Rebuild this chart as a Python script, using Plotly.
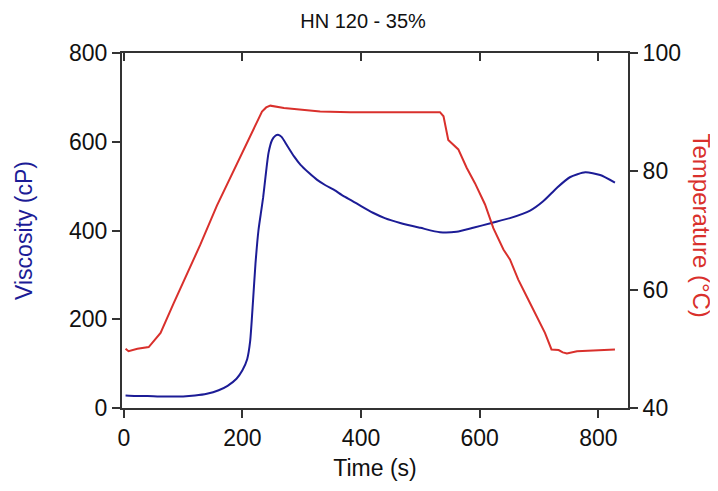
import plotly.graph_objects as go

# Viscosity data (cP)
visc_time = [3, 20, 40, 60, 80, 100, 120, 140, 160, 175, 190, 200, 208, 213, 218, 222, 227, 231, 235, 239,
             244, 250, 256, 260, 266, 276, 287, 298, 312, 326, 340, 354, 370, 385, 400, 420, 440, 466, 500,
             533, 561, 589, 620, 651, 685, 707, 730, 752, 778, 803, 828]
viscosity = [28, 27, 27, 26, 26, 26, 28, 32, 40, 50, 66, 85, 110, 150, 244, 325, 400, 438, 475, 522,
             575, 604, 614, 616, 611, 590, 567, 548, 530, 514, 502, 492, 478, 467, 455, 440, 428, 417, 406,
             396, 397, 406, 417, 428, 445, 466, 496, 520, 531, 525, 508]

# Temperature data (°C)
temp_time = [3, 8, 23, 42, 48, 62, 84, 129, 157, 190, 219, 233, 240, 247, 270, 298, 331, 382, 450, 533,
             539, 547, 564, 578, 592, 609, 623, 640, 651, 665, 682, 696, 710, 721, 733, 740, 747, 764, 803, 828]
temperature = [50.0, 49.6, 50.0, 50.3, 51.0, 52.7, 57.7, 67.6, 74.2, 81.0, 87.0, 90.1, 90.8, 91.1, 90.7,
               90.4, 90.1, 90.0, 90.0, 90.0, 89.3, 85.3, 83.7, 80.6, 78.0, 74.4, 70.4, 66.8, 65.1, 61.7,
               58.3, 55.5, 52.7, 49.9, 49.8, 49.4, 49.2, 49.6, 49.8, 49.9]

x_ticks = [0, 200, 400, 600, 800]
y_ticks = [0, 200, 400, 600, 800]
y2_ticks = [40, 60, 80, 100]

BLUE = "#1c1c96"
RED = "#d9302c"
AX = "#333333"
FONT = "Liberation Sans, Arial, sans-serif"

fig = go.Figure()
fig.add_trace(go.Scatter(x=visc_time, y=viscosity, mode="lines", line=dict(color=BLUE, width=2),
                         line_shape="spline", line_smoothing=0.6, yaxis="y", showlegend=False))
fig.add_trace(go.Scatter(x=temp_time, y=temperature, mode="lines", line=dict(color=RED, width=2),
                         yaxis="y2", showlegend=False))
# invisible trace to activate top mirror axis
fig.add_trace(go.Scatter(x=[0], y=[0], mode="markers", marker=dict(opacity=0), xaxis="x2",
                         showlegend=False, hoverinfo="skip"))

fig.update_layout(
    width=710, height=483,
    margin=dict(l=114, r=90, t=45, b=83, autoexpand=False),
    paper_bgcolor="white", plot_bgcolor="white",
    font=dict(family=FONT, size=23, color="#111111"),
    title=dict(text="HN 120 - 35%", x=0.5, xanchor="center", y=0.988, yanchor="top",
               font=dict(size=20, color="#111111"), pad=dict(t=0, b=0)),
    xaxis=dict(range=[-3, 850], tickvals=x_ticks, ticks="outside", ticklen=8, tickwidth=2,
               tickcolor=AX, showline=True, linewidth=2, linecolor=AX, showgrid=False, zeroline=False,
               automargin=False,
               title=dict(text="Time (s)", font=dict(size=23), standoff=10)),
    xaxis2=dict(range=[-3, 850], overlaying="x", side="top", tickvals=x_ticks, ticks="inside",
                ticklen=8, tickwidth=2, tickcolor=AX, showline=True, linewidth=2, linecolor=AX,
                showticklabels=False, showgrid=False, zeroline=False, automargin=False),
    yaxis=dict(range=[0, 800], tickvals=y_ticks, ticks="outside", ticklen=8, tickwidth=2, tickcolor=AX,
               showline=True, linewidth=2, linecolor=AX, showgrid=False, zeroline=False,
               automargin=False,
               title=dict(text="Viscosity (cP)", font=dict(size=23, color=BLUE), standoff=30)),
    yaxis2=dict(range=[40, 100], tickvals=y2_ticks, overlaying="y", side="right", ticks="outside",
                ticklen=8, tickwidth=2, tickcolor=AX, showline=True, linewidth=2, linecolor=AX,
                showgrid=False, zeroline=False, automargin=False),
    annotations=[dict(text="Temperature (°C)", xref="paper", yref="paper", x=1.0, y=0.5,
                      xshift=73, yshift=5, textangle=90, showarrow=False, xanchor="center",
                      yanchor="middle", font=dict(size=24, color=RED))],
)

fig.write_html("out.html")
